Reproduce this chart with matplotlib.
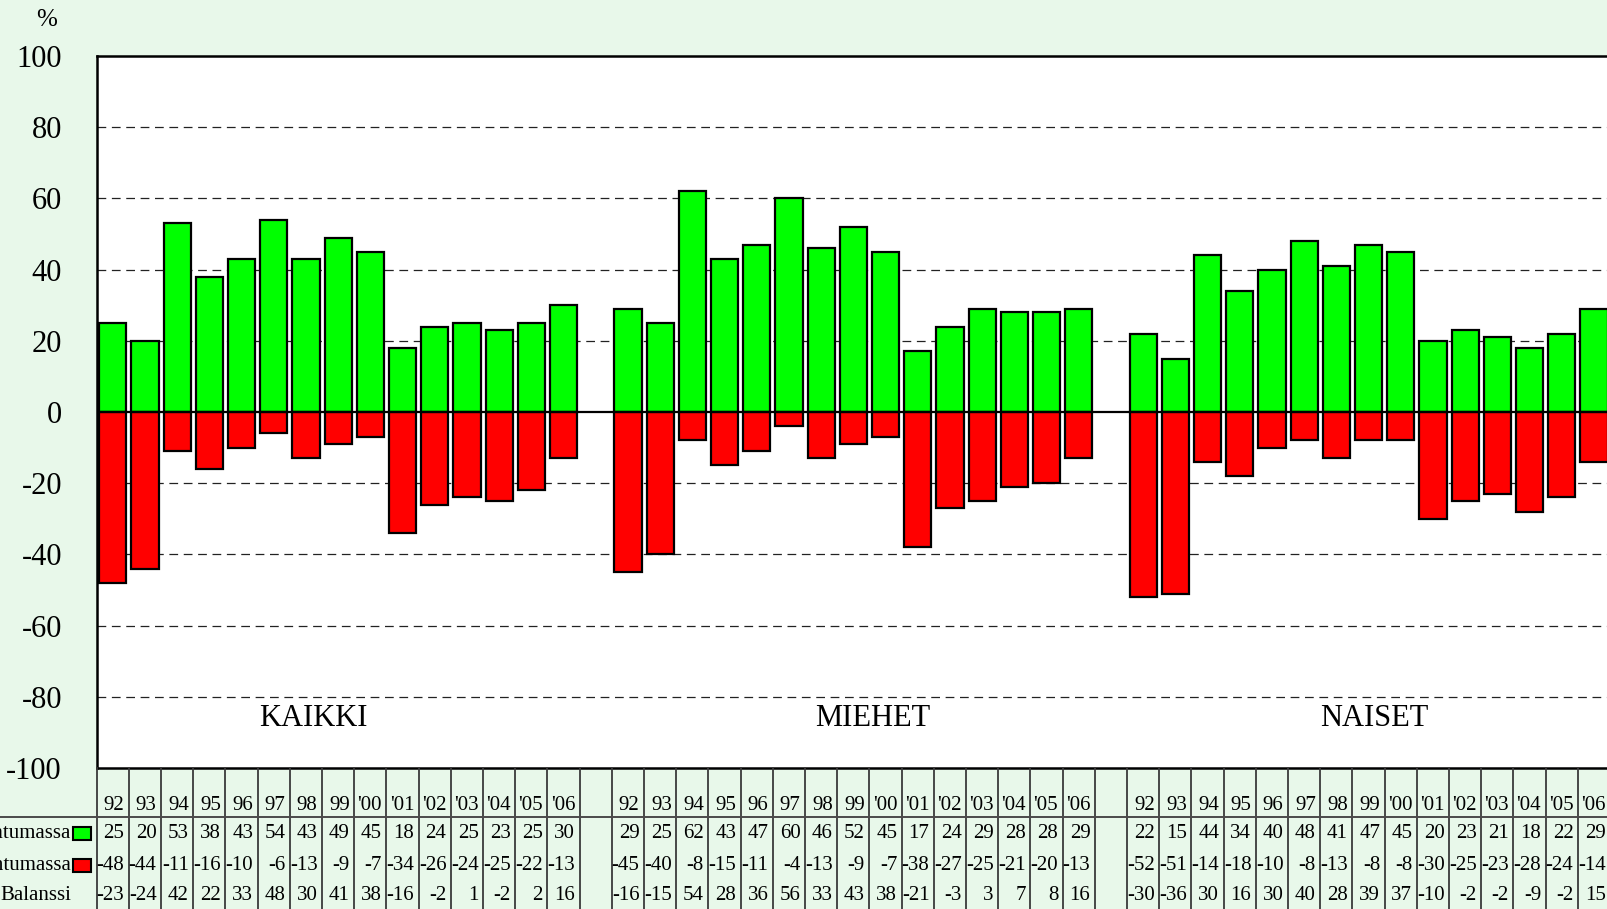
import matplotlib
matplotlib.use("Agg")
import matplotlib.pyplot as plt
from matplotlib.transforms import blended_transform_factory
from matplotlib.lines import Line2D
from matplotlib.patches import Rectangle

plt.rcParams['font.family'] = ['Liberation Serif', 'DejaVu Serif']

years = ["92", "93", "94", "95", "96", "97", "98", "99", "'00", "'01", "'02", "'03", "'04", "'05", "'06"]
groups = ["KAIKKI", "MIEHET", "NAISET"]
row_labels = ["Parantumassa", "Huonontumassa", "Balanssi"]

kaikki_pos = [25, 20, 53, 38, 43, 54, 43, 49, 45, 18, 24, 25, 23, 25, 30]
kaikki_neg = [-48, -44, -11, -16, -10, -6, -13, -9, -7, -34, -26, -24, -25, -22, -13]
kaikki_bal = [-23, -24, 42, 22, 33, 48, 30, 41, 38, -16, -2, 1, -2, 2, 16]

miehet_pos = [29, 25, 62, 43, 47, 60, 46, 52, 45, 17, 24, 29, 28, 28, 29]
miehet_neg = [-45, -40, -8, -15, -11, -4, -13, -9, -7, -38, -27, -25, -21, -20, -13]
miehet_bal = [-16, -15, 54, 28, 36, 56, 33, 43, 38, -21, -3, 3, 7, 8, 16]

naiset_pos = [22, 15, 44, 34, 40, 48, 41, 47, 45, 20, 23, 21, 18, 22, 29]
naiset_neg = [-52, -51, -14, -18, -10, -8, -13, -8, -8, -30, -25, -23, -28, -24, -14]
naiset_bal = [-30, -36, 30, 16, 30, 40, 28, 39, 37, -10, -2, -2, -9, -2, 15]

pos_series = [kaikki_pos, miehet_pos, naiset_pos]
neg_series = [kaikki_neg, miehet_neg, naiset_neg]
bal_series = [kaikki_bal, miehet_bal, naiset_bal]

W, H = 1608, 909
BG = '#e8f8ea'
GREEN = '#00ff00'
RED = '#ff0000'

fig = plt.figure(figsize=(W / 100, H / 100), dpi=100, facecolor=BG)
left_px, top_px, bottom_px = 96.7, 56, 768
slot = 32.2
nslots = 48
ax = fig.add_axes([left_px / W, 1 - bottom_px / H, nslots * slot / W, (bottom_px - top_px) / H])
ax.set_facecolor('white')
ax.set_xlim(-0.5, nslots - 0.5)
ax.set_ylim(-100, 100)

ngroup = len(years)
step = ngroup + 1
for g in range(3):
    xs = [g * step + i for i in range(ngroup)]
    ax.bar(xs, pos_series[g], width=0.84, color=GREEN, edgecolor='black', linewidth=1.6, zorder=3)
    ax.bar(xs, neg_series[g], width=0.84, color=RED, edgecolor='black', linewidth=1.6, zorder=3)

for yv in [-80, -60, -40, -20, 20, 40, 60, 80]:
    ax.axhline(yv, color='#222222', linewidth=0.9, linestyle=(0, (7, 4.5)), zorder=1)
ax.axhline(0, color='black', linewidth=1.6, zorder=4)

ax.set_yticks(range(-100, 101, 20))
ax.set_yticklabels([str(v) for v in range(-100, 101, 20)], fontsize=22)
ax.tick_params(axis='y', length=0, pad=25)
ax.set_xticks([])
for s in ax.spines.values():
    s.set_linewidth(1.8)
    s.set_color('black')

# group labels
group_x = [6.22, 23.6, 39.17]
for gx, name in zip(group_x, groups):
    ax.text(gx, -86.2, name, fontsize=22, ha='center', va='center', zorder=5)

fig.text(47 / W, 1 - 19.5 / H, '%', fontsize=18, ha='center', va='center')

# data table
tr = blended_transform_factory(ax.transData, fig.transFigure)
def fy(ypx):
    return 1 - ypx / H

for k in range(nslots + 1):
    xb = k - 0.5
    fig.add_artist(Line2D([xb, xb], [fy(bottom_px), fy(H + 2)], transform=tr,
                          color='#3a3a3a', linewidth=1.3, clip_on=False))
fig.add_artist(Line2D([0, 1], [fy(817), fy(817)], transform=fig.transFigure,
                      color='#4a4a4a', linewidth=1.4))

pad = 4.5 / slot
row_y = [833, 865, 895.5]
header_y = 805.5
for g in range(3):
    for i in range(ngroup):
        xr = g * step + i + 0.5 - pad
        fig.text(xr, fy(header_y), years[i], transform=tr, fontsize=15, ha='right', va='center')
        vals = [pos_series[g][i], neg_series[g][i], bal_series[g][i]]
        for ry, v in zip(row_y, vals):
            fig.text(xr, fy(ry), str(v), transform=tr, fontsize=15, ha='right', va='center')

for ry, lab in zip(row_y, row_labels):
    fig.text(71 / W, fy(ry), lab, fontsize=15, ha='right', va='center')
for ry, col in zip(row_y[:2], [GREEN, RED]):
    fig.add_artist(Rectangle((72.5 / W, fy(ry + 6.5)), 18 / W, 13 / H, transform=fig.transFigure,
                             facecolor=col, edgecolor='black', linewidth=1.5))

fig.savefig('out.png', dpi=100, facecolor=BG)
